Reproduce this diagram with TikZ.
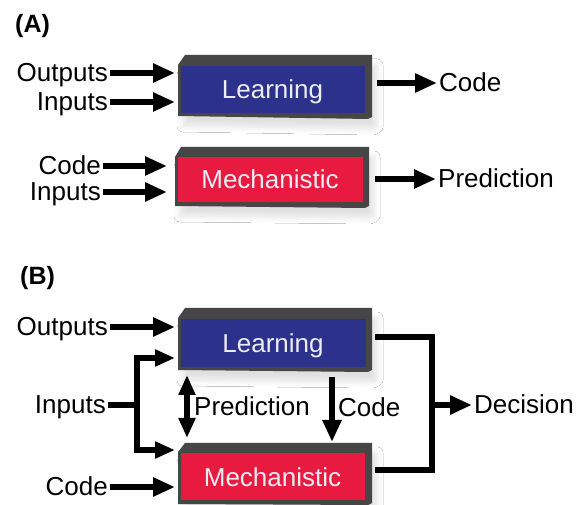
\documentclass[tikz,border=0pt]{standalone}
\usepackage{fontspec}
\setmainfont{Liberation Sans}
\usetikzlibrary{arrows.meta,shadows.blur}
\definecolor{learnblue}{RGB}{44,49,139}
\definecolor{mechred}{RGB}{232,26,64}
\definecolor{slabgrey}{RGB}{70,70,70}
\definecolor{facetext}{RGB}{236,236,244}

\begin{document}
\begin{tikzpicture}[x=1pt,y=-1pt,
  every node/.style={font=\fontsize{26}{30}\selectfont},
  lbl/.style={inner xsep=2pt,inner ysep=0pt,text height=18pt,text depth=0pt},
  face/.style={inner sep=0pt,text height=18pt,text depth=0pt,draw=slabgrey,line width=2pt,text=facetext},
  body/.style={fill=slabgrey,blur shadow={shadow xshift=5pt,shadow yshift=-10pt,shadow blur radius=6pt,shadow blur steps=10,shadow opacity=12}},
  fat/.style={line width=5.5pt},
  fatarrow/.style={fat,-{Triangle[length=22pt,width=18pt]}},
  fatboth/.style={fat,{Triangle[length=20pt,width=16pt]}-{Triangle[length=20pt,width=16pt]}}]
\fill[white] (0,0) rectangle (582,505);
\useasboundingbox (0,0) rectangle (582,505);

\node[anchor=base west,inner sep=0pt,font=\fontsize{25}{30}\selectfont\bfseries] (tagA) at (15,33) {(A)};
\node[anchor=base west,inner sep=0pt,font=\fontsize{25}{30}\selectfont\bfseries] (tagB) at (20,285) {(B)};

\fill[body] (178,65) -- (185,55) -- (372,55) -- (372,117) -- (368,119) -- (178,116) -- cycle;
\node[face,fill=learnblue,minimum width=186pt,minimum height=49pt] (learnA) at (272.5,90) {Learning};
\fill[body] (175,157) -- (181,147) -- (369,147) -- (369,206) -- (365,208) -- (175,206) -- cycle;
\node[face,fill=mechred,minimum width=187pt,minimum height=47pt] (mechA) at (270,180) {Mechanistic};
\fill[body] (178,318) -- (185,308) -- (372,308) -- (372,370) -- (368,372) -- (178,370) -- cycle;
\node[face,fill=learnblue,minimum width=187pt,minimum height=50pt] (learnB) at (273,343.5) {Learning};
\fill[body] (178,452) -- (185,443) -- (372,443) -- (372,503) -- (368,505) -- (178,504) -- cycle;
\node[face,fill=mechred,minimum width=186pt,minimum height=49pt] (mechB) at (272.5,477) {Mechanistic};

\node[lbl,anchor=east] (outA) at (110,73) {Outputs};
\node[lbl,anchor=east] (inA) at (110,102) {Inputs};
\node[lbl,anchor=west] (codeA) at (437,83) {Code};
\node[lbl,anchor=east] (codeinA) at (103,166) {Code};
\node[lbl,anchor=east] (inA2) at (103,192) {Inputs};
\node[lbl,anchor=west] (predA) at (436,179) {Prediction};

\coordinate (learnAo) at (175,73);
\coordinate (learnAi) at (175,102);
\coordinate (learnAc) at (377,83);
\coordinate (mechAc) at (167,166);
\coordinate (mechAi) at (167,192);
\coordinate (mechAp) at (375,179);

\draw[fatarrow] (outA) -- (learnAo);
\draw[fatarrow] (inA) -- (learnAi);
\draw[fatarrow] (learnAc) -- (codeA);
\draw[fatarrow] (codeinA) -- (mechAc);
\draw[fatarrow] (inA2) -- (mechAi);
\draw[fatarrow] (mechAp) -- (predA);

\node[lbl,anchor=east] (outB) at (110,327) {Outputs};
\node[lbl,anchor=east] (inB) at (108,405) {Inputs};
\node[lbl,anchor=east] (codeinB) at (110,487) {Code};
\node[lbl,anchor=west] (predB) at (192,407) {Prediction};
\node[lbl,anchor=west] (codeB) at (336,408) {Code};
\node[lbl,anchor=west] (decB) at (472,405) {Decision};

\coordinate (learnBo) at (175,327);
\coordinate (learnBi) at (175,358);
\coordinate (mechBi) at (175,450);
\coordinate (inBj) at (137,405);
\coordinate (mechBc) at (175,487);
\coordinate (predTop) at (187,375);
\coordinate (predBot) at (187,438);
\coordinate (codeTop) at (332,377);
\coordinate (codeBot) at (332,442);
\coordinate (learnBr) at (375,337);
\coordinate (mechBr) at (375,470);
\coordinate (decBj) at (432,405);

\draw[fatarrow] (outB) -- (learnBo);
\draw[fat] (inB) -- (inBj);
\draw[fatboth] (learnBi) -| (inBj) |- (mechBi);
\draw[fatarrow] (codeinB) -- (mechBc);
\draw[fatboth] (predTop) -- (predBot);
\draw[fatarrow] (codeTop) -- (codeBot);
\draw[fat] (learnBr) -| (decBj) |- (mechBr);
\draw[fatarrow] (decBj) -- (decB);
\end{tikzpicture}
\end{document}
